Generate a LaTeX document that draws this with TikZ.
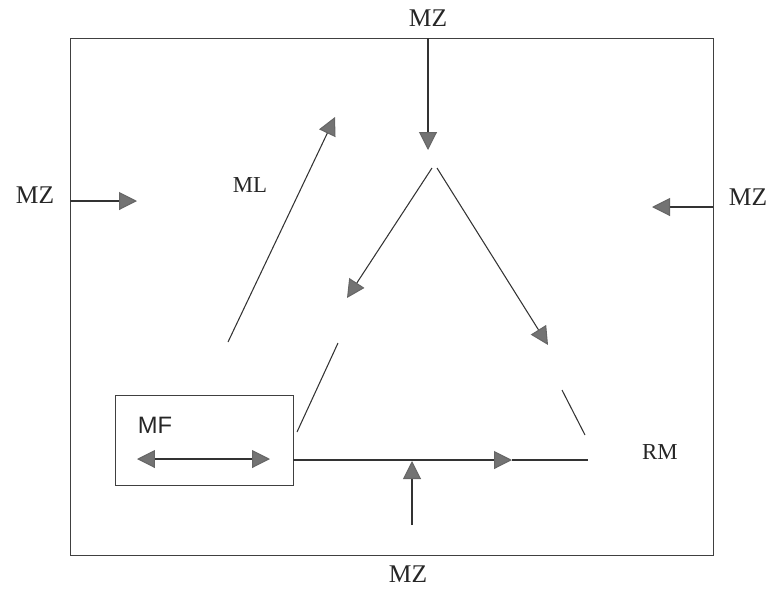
\documentclass[tikz,border=0pt]{standalone}
\usepackage{fontspec}
\setmainfont{Liberation Serif}
\setsansfont{Liberation Sans}
\usetikzlibrary{arrows.meta}

\begin{document}
\begin{tikzpicture}[x=0.02cm,y=-0.02cm]
\useasboundingbox (0,0) rectangle (774,589);
\draw [black!75] (70,38) rectangle (713,555);
\begin{scope}[every node/.style={inner sep=0pt,text=black!85}]
    \node[font=\fontsize{14.5}{17}\selectfont] (MZt) at (428,18) {MZ};
    \node[font=\fontsize{14.5}{17}\selectfont] (MZl) at (35,195) {MZ};
    \node[font=\fontsize{14.5}{17}\selectfont] (MZr) at (748,197) {MZ};
    \node[font=\fontsize{14.5}{17}\selectfont] (MZb) at (408,574) {MZ};
    \node[font=\fontsize{13}{15}\selectfont] (ML) at (250,185) {ML};
    \node[font=\fontsize{13}{15}\selectfont] (RM) at (660,452) {RM};
    \node[font=\sffamily\fontsize{13.5}{16}\selectfont] (MF) at (155,425) {MF};
\end{scope}
\node[draw=black!75,minimum width=3.56cm,minimum height=1.8cm,inner sep=0pt] (box) at (204,440) {};
% end points of the arrows
\coordinate (T0) at (428,38);   \coordinate (T1) at (428,150);
\coordinate (L0) at (70,201);   \coordinate (L1) at (137,201);
\coordinate (R0) at (713,207);  \coordinate (R1) at (652,207);
\coordinate (B0) at (412,525);  \coordinate (B1) at (412,461);
\coordinate (ML0) at (228,342); \coordinate (ML1) at (335,117);
\coordinate (Al) at (432,168);  \coordinate (Ar) at (437,168);
\coordinate (P1) at (347,298);  \coordinate (P2) at (548,345);
\coordinate (S0) at (562,390);  \coordinate (S1) at (585,435);
\coordinate (Q0) at (338,343);  \coordinate (Q1) at (297,432);
\coordinate (H0) at (box.east |- 0,460); \coordinate (H1) at (512,460);
\coordinate (H2) at (588,460);
\coordinate (D0) at (137,459);  \coordinate (D1) at (270,459);
\begin{scope}[>={Triangle[length=0.36cm,width=0.36cm,color=black!60,fill=black!55]},
              every edge/.style={draw=black!80,line width=0.6pt}]
    \path [->] (T0) edge (T1);
    \path [->] (L0) edge (L1);
    \path [->] (R0) edge (R1);
    \path [->] (B0) edge (B1);
    \path [->] (ML0) edge (ML1);
    \path [->] (Al) edge (P1);
    \path [->] (Ar) edge (P2);
    \path [-] (S0) edge (S1);
    \path [-] (Q0) edge (Q1);
    \path [->] (H0) edge (H1);
    \path [-] (H1) edge (H2);
    \path [<->] (D0) edge (D1);
\end{scope}
\end{tikzpicture}
\end{document}
